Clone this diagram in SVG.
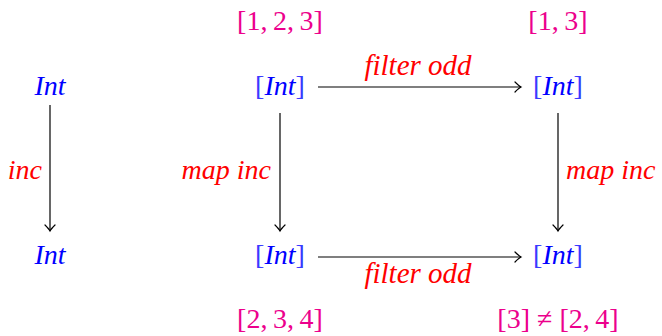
<svg xmlns="http://www.w3.org/2000/svg" width="662" height="336" viewBox="0 0 662 336">
<style>
text{font-family:"Liberation Serif","Times New Roman",serif;font-size:28px;text-anchor:middle}
.t{fill:#0000ff;font-style:italic}
.b{fill:#3a3aff;font-style:normal}
.l{fill:#ff0000;font-style:italic}
.v{fill:#ec008c}
.e{stroke:#000;stroke-width:1.2;fill:none;marker-end:url(#ah)}
</style>
<defs>
<marker id="ah" viewBox="-8 -6 10 12" markerWidth="10" markerHeight="12" refX="0" refY="0" orient="auto" markerUnits="userSpaceOnUse">
<path d="M-6,-5 Q-2,-1 0,0 Q-2,1 -6,5" fill="none" stroke="#000" stroke-width="1.2" stroke-linecap="round"/>
</marker>
</defs>
<g id="connectors">
<path class="e" d="M50,105 V231"/>
<text class="l" x="42" y="179" style="text-anchor:end">inc</text>
<path class="e" d="M280,113 V231"/>
<text class="l" x="271" y="179" style="text-anchor:end">map inc</text>
<path class="e" d="M558,113 V231"/>
<text class="l" x="566" y="179" style="text-anchor:start">map inc</text>
<path class="e" d="M318,87 H521"/>
<text class="l" x="418" y="75" style="font-size:29px">filter odd</text>
<path class="e" d="M318,257 H521"/>
<text class="l" x="418" y="283" style="font-size:29px">filter odd</text>
</g>
<g id="n1"><text class="t" x="50" y="95">Int</text></g>
<g id="n2"><text class="t" x="50" y="264">Int</text></g>
<g id="n3"><text class="t" x="280" y="95"><tspan class="b">[</tspan>Int<tspan class="b">]</tspan></text></g>
<g id="n4"><text class="t" x="558" y="95"><tspan class="b">[</tspan>Int<tspan class="b">]</tspan></text></g>
<g id="n5"><text class="t" x="280" y="264"><tspan class="b">[</tspan>Int<tspan class="b">]</tspan></text></g>
<g id="n6"><text class="t" x="558" y="264"><tspan class="b">[</tspan>Int<tspan class="b">]</tspan></text></g>
<g id="v1"><text class="v" x="280" y="30">[1,&#8201;2,&#8201;3]</text></g>
<g id="v2"><text class="v" x="558" y="30">[1,&#8201;3]</text></g>
<g id="v3"><text class="v" x="280" y="328">[2,&#8201;3,&#8201;4]</text></g>
<g id="v4"><text class="v" x="558" y="328">[3] ≠ [2,&#8201;4]</text></g>
</svg>
